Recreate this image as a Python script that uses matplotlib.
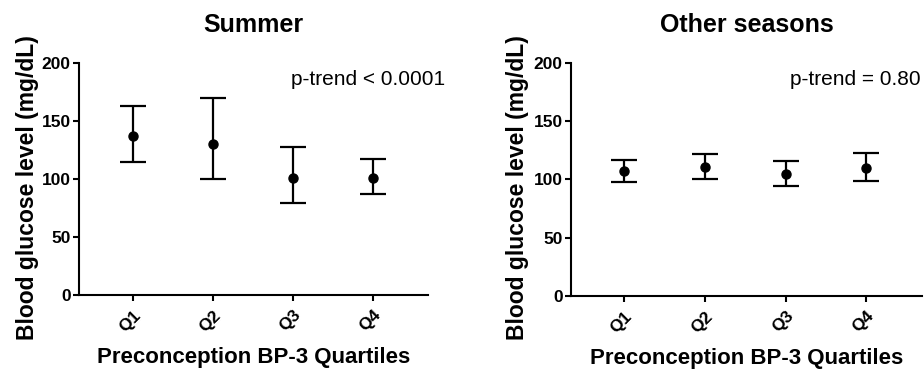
import numpy as np
import matplotlib
matplotlib.use("Agg")
import matplotlib.pyplot as plt

plt.rcParams['font.family'] = ['Liberation Sans', 'DejaVu Sans']

# Quartile groups and values (mean, lower, upper)
quartiles = ['Q1', 'Q2', 'Q3', 'Q4']

summer_mean = [137, 130, 101, 101]
summer_low = [115, 100, 79, 87]
summer_high = [163, 170, 128, 117]

other_mean = [107, 110.5, 104.5, 110]
other_low = [97.5, 100.5, 94, 98.5]
other_high = [117, 122, 116, 122.5]

titles = ['Summer', 'Other seasons']
ptexts = ['p-trend < 0.0001', 'p-trend = 0.80']
y_ticks = [0, 50, 100, 150, 200]

fig = plt.figure(figsize=(9.24, 3.74), dpi=100)
ax_left = fig.add_axes([0.0855, 0.2112, 0.3777, 0.6203])
ax_right = fig.add_axes([0.618, 0.2086, 0.380, 0.623])


def draw_panel(ax, mean, low, high, title, ptext, xlim):
    x = np.arange(1, len(quartiles) + 1)
    mean = np.array(mean)
    yerr = [mean - np.array(low), np.array(high) - mean]
    ax.errorbar(x, mean, yerr=yerr, fmt='o', color='black', ms=6.5,
                elinewidth=1.6, capsize=9.7, capthick=1.6)
    ax.set_xlim(*xlim)
    ax.set_ylim(0, 200)
    ax.set_yticks(y_ticks)
    ax.set_xticks(x)
    ax.set_xticklabels(quartiles, rotation=45, ha='right',
                       rotation_mode='anchor', fontweight='bold', fontsize=12.5)
    for lab in ax.get_yticklabels():
        lab.set_fontweight('bold')
        lab.set_fontsize(12.5)
    ax.spines['top'].set_visible(False)
    ax.spines['right'].set_visible(False)
    for s in ['left', 'bottom']:
        ax.spines[s].set_linewidth(1.5)
    ax.tick_params(direction='out', length=4, width=1.5, pad=2)
    ax.tick_params(axis='x', pad=5)
    ax.set_ylabel('Blood glucose level (mg/dL)', fontsize=16.5,
                  fontweight='bold')
    ax.yaxis.set_label_coords(-0.115, 0.465)
    ax.set_xlabel('Preconception BP-3 Quartiles', fontsize=16,
                  fontweight='bold', labelpad=9)
    ax.set_title(title, fontsize=18, fontweight='bold', pad=22)
    ax.text(1.05, 0.93, ptext, transform=ax.transAxes, ha='right',
            va='center', fontsize=15, clip_on=False)


draw_panel(ax_left, summer_mean, summer_low, summer_high,
           titles[0], ptexts[0], (0.325, 4.69))
draw_panel(ax_right, other_mean, other_low, other_high,
           titles[1], ptexts[1], (0.346, 4.69))
ax_right.texts[0].set_x(0.997)
ax_right.yaxis.set_label_coords(-0.12, 0.465)

fig.savefig('out.png', dpi=100)
